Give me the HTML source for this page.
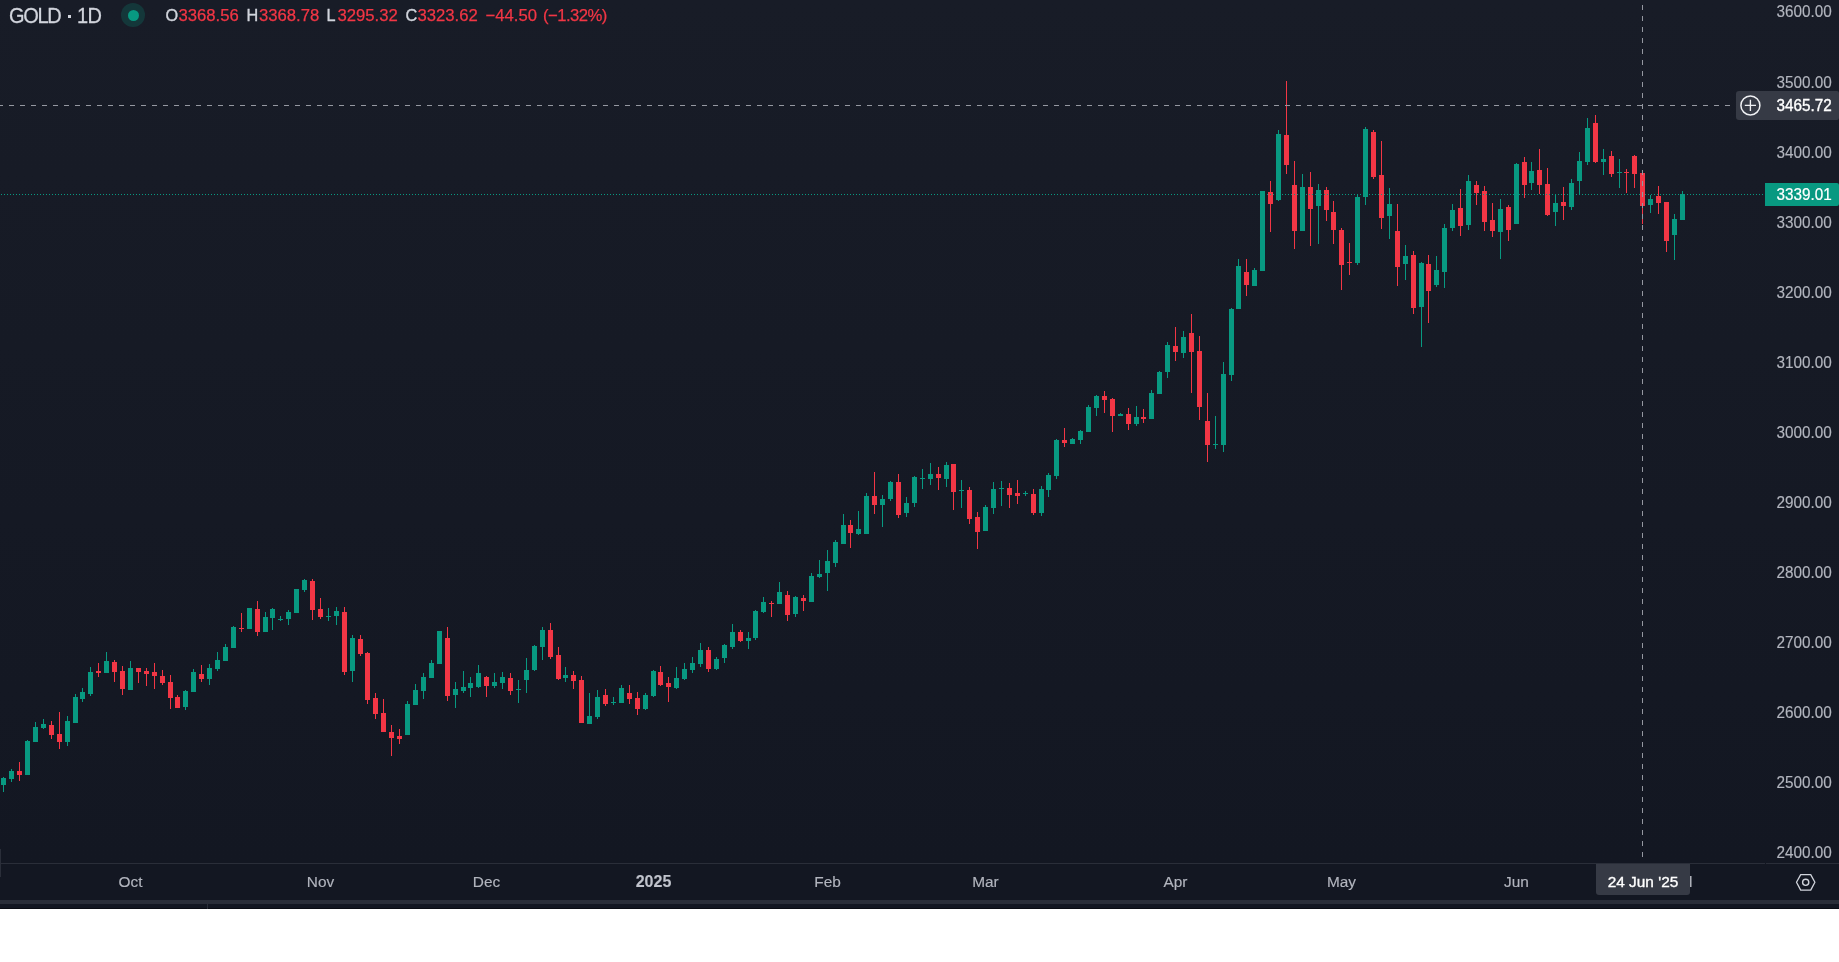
<!DOCTYPE html>
<html><head><meta charset="utf-8"><title>GOLD 1D</title>
<style>
html,body{margin:0;padding:0;background:#fff;}
body{width:1839px;height:962px;overflow:hidden;position:relative;font-family:"Liberation Sans",sans-serif;}
#chart{will-change:transform;position:absolute;left:0;top:0;width:1839px;height:909px;background:#131722;overflow:hidden;}
#pane{position:absolute;left:0;top:0;width:1839px;height:863px;background:linear-gradient(to bottom,#181c27 0%,#131722 100%);}
#tborder{position:absolute;left:0;top:863px;width:1765px;height:1px;background:#2a2e39;}
#tborder2{position:absolute;left:1766px;top:863px;width:73px;height:1px;background:#2a2e39;}
#strip{position:absolute;left:0;top:900px;width:1839px;height:4px;background:#2a2e39;}
#last{position:absolute;left:0;top:908px;width:1839px;height:1px;background:#0a0c13;}
#vtick{position:absolute;left:207px;top:904px;width:1px;height:5px;background:#2a2e39;z-index:2;}
#ledge{position:absolute;left:0;top:849px;width:1px;height:28px;background:#2a2e39;}
svg{position:absolute;left:0;top:0;}
.pl{position:absolute;right:7.2px;height:20px;line-height:20px;font-size:15.3px;color:#b2b5be;white-space:nowrap;transform:scaleY(1.07);-webkit-text-stroke:0.15px #b2b5be;}
.tl{position:absolute;top:871.6px;width:80px;text-align:center;height:20px;line-height:20px;font-size:15.4px;color:#b2b5be;white-space:nowrap;-webkit-text-stroke:0.15px #b2b5be;}
.tl.b{font-weight:bold;color:#c1c4cd;font-size:16px;}
#title{position:absolute;left:9px;top:3.5px;transform:scaleY(1.07);-webkit-text-stroke:0.25px #d1d4dc;height:24px;line-height:24px;font-size:20px;color:#d1d4dc;white-space:nowrap;letter-spacing:-1.3px;}
.lg{position:absolute;top:5.3px;height:20px;line-height:20px;font-size:16.25px;white-space:nowrap;}
.lk{color:#d1d4dc;-webkit-text-stroke:0.35px #d1d4dc;}
.lv{color:#f23645;font-size:16.7px;margin-top:1px;-webkit-text-stroke:0.25px #f23645;}
#title2{position:absolute;left:77px;top:3.5px;transform:scaleY(1.07);-webkit-text-stroke:0.25px #d1d4dc;height:24px;line-height:24px;font-size:20px;color:#d1d4dc;white-space:nowrap;letter-spacing:-0.6px;}
#bul{position:absolute;left:68px;top:15px;width:3px;height:3px;background:#d1d4dc;}
#dotO{position:absolute;left:121px;top:3px;width:24px;height:24px;border-radius:50%;background:rgba(8,153,129,0.22);}
#dotI{position:absolute;left:127.5px;top:9.5px;width:11px;height:11px;border-radius:50%;background:#089981;}
#chl{position:absolute;left:1736px;top:91px;width:103px;height:29px;background:#363a45;border-radius:3px 2px 2px 3px;}
#chlt{position:absolute;right:7.2px;top:96.2px;height:20px;line-height:20px;font-size:15.3px;color:#fff;-webkit-text-stroke:0.35px #fff;white-space:nowrap;transform:scaleY(1.03);}
#cpl{position:absolute;left:1765px;top:183px;width:74px;height:23px;background:#089981;border-radius:0 2px 2px 0;}
#cplt{position:absolute;right:7.2px;top:184.5px;height:20px;line-height:20px;font-size:15.3px;color:#fff;white-space:nowrap;transform:scaleY(1.07);-webkit-text-stroke:0.2px #fff;}
#dl{position:absolute;left:1596px;top:864px;width:94px;height:31px;background:#363a45;border-radius:0 0 3px 3px;}
#dlt{position:absolute;left:1596px;top:871.5px;width:94px;text-align:center;height:20px;line-height:20px;font-size:15.4px;color:#fff;-webkit-text-stroke:0.35px #fff;white-space:nowrap;}
</style></head><body>
<div id="chart">
<div id="pane"></div>
<div id="tborder"></div><div id="tborder2"></div>
<div id="strip"></div><div id="last"></div><div id="vtick"></div><div id="ledge"></div>
<svg width="1839" height="909" viewBox="0 0 1839 909" shape-rendering="crispEdges">
<path fill="#089981" d="M3 777h1v15h-1zM11 769h1v13h-1zM27 740h1v35h-1zM35 722h1v20h-1zM43 719h1v10h-1zM67 716h1v30h-1zM75 694h1v29h-1zM82 688h1v14h-1zM90 667h1v29h-1zM106 652h1v21h-1zM130 661h1v29h-1zM185 690h1v20h-1zM193 669h1v23h-1zM209 664h1v21h-1zM217 652h1v19h-1zM225 644h1v17h-1zM233 626h1v22h-1zM249 608h1v21h-1zM265 612h1v20h-1zM272 608h1v22h-1zM280 616h1v5h-1zM288 610h1v15h-1zM296 589h1v24h-1zM304 579h1v13h-1zM328 608h1v13h-1zM336 607h1v18h-1zM352 635h1v47h-1zM407 701h1v34h-1zM415 684h1v21h-1zM423 673h1v26h-1zM431 660h1v18h-1zM439 631h1v33h-1zM455 682h1v26h-1zM463 671h1v22h-1zM470 677h1v20h-1zM478 665h1v23h-1zM494 673h1v15h-1zM502 672h1v17h-1zM518 680h1v23h-1zM526 658h1v35h-1zM534 645h1v26h-1zM542 627h1v33h-1zM565 667h1v15h-1zM589 693h1v31h-1zM597 690h1v29h-1zM613 697h1v8h-1zM621 685h1v18h-1zM645 693h1v17h-1zM653 670h1v27h-1zM676 667h1v22h-1zM684 663h1v17h-1zM692 657h1v16h-1zM700 643h1v24h-1zM716 657h1v13h-1zM724 644h1v19h-1zM732 624h1v25h-1zM748 632h1v17h-1zM755 610h1v30h-1zM763 597h1v16h-1zM779 582h1v22h-1zM795 596h1v21h-1zM811 573h1v29h-1zM819 560h1v18h-1zM827 550h1v41h-1zM835 540h1v27h-1zM843 514h1v30h-1zM858 511h1v24h-1zM866 493h1v41h-1zM882 495h1v32h-1zM890 481h1v20h-1zM906 497h1v20h-1zM914 476h1v31h-1zM922 469h1v20h-1zM930 463h1v22h-1zM946 462h1v25h-1zM961 480h1v28h-1zM985 505h1v26h-1zM993 482h1v32h-1zM1001 481h1v25h-1zM1025 491h1v5h-1zM1041 486h1v30h-1zM1048 473h1v24h-1zM1056 439h1v40h-1zM1072 438h1v6h-1zM1080 430h1v14h-1zM1088 405h1v27h-1zM1096 395h1v21h-1zM1120 413h1v3h-1zM1136 406h1v20h-1zM1151 390h1v29h-1zM1159 371h1v23h-1zM1167 342h1v36h-1zM1183 331h1v27h-1zM1215 416h1v33h-1zM1223 362h1v90h-1zM1231 308h1v73h-1zM1238 259h1v50h-1zM1254 268h1v18h-1zM1262 191h1v80h-1zM1278 130h1v71h-1zM1302 174h1v57h-1zM1318 184h1v60h-1zM1357 194h1v71h-1zM1365 127h1v78h-1zM1389 188h1v51h-1zM1405 245h1v35h-1zM1421 262h1v85h-1zM1436 256h1v31h-1zM1444 224h1v64h-1zM1452 204h1v27h-1zM1468 175h1v55h-1zM1500 199h1v60h-1zM1516 163h1v61h-1zM1531 162h1v28h-1zM1555 194h1v32h-1zM1571 179h1v31h-1zM1579 152h1v43h-1zM1587 118h1v47h-1zM1603 149h1v26h-1zM1619 159h1v29h-1zM1650 195h1v18h-1zM1674 214h1v46h-1zM1682 191h1v29h-1zM1 778h5v7h-5zM9 771h5v8h-5zM25 741h5v34h-5zM33 727h5v15h-5zM41 724h5v4h-5zM65 721h5v21h-5zM73 697h5v26h-5zM80 692h5v7h-5zM88 672h5v22h-5zM104 661h5v12h-5zM128 668h5v22h-5zM183 691h5v16h-5zM191 672h5v20h-5zM207 668h5v11h-5zM215 660h5v9h-5zM223 647h5v14h-5zM231 627h5v21h-5zM247 608h5v21h-5zM263 617h5v15h-5zM270 609h5v9h-5zM278 619h5v1h-5zM286 612h5v7h-5zM294 589h5v24h-5zM302 580h5v10h-5zM326 616h5v1h-5zM334 611h5v5h-5zM350 638h5v33h-5zM405 704h5v31h-5zM413 690h5v15h-5zM421 677h5v14h-5zM429 663h5v15h-5zM437 631h5v33h-5zM453 689h5v6h-5zM461 687h5v4h-5zM468 683h5v5h-5zM476 673h5v14h-5zM492 682h5v4h-5zM500 677h5v6h-5zM516 689h5v1h-5zM524 670h5v10h-5zM532 646h5v24h-5zM540 630h5v17h-5zM563 675h5v3h-5zM587 716h5v8h-5zM595 697h5v20h-5zM611 702h5v1h-5zM619 688h5v15h-5zM643 695h5v14h-5zM651 671h5v25h-5zM674 678h5v10h-5zM682 669h5v10h-5zM690 663h5v7h-5zM698 650h5v14h-5zM714 659h5v10h-5zM722 645h5v13h-5zM730 632h5v15h-5zM746 638h5v3h-5zM753 611h5v27h-5zM761 602h5v10h-5zM777 592h5v12h-5zM793 597h5v17h-5zM809 576h5v26h-5zM817 574h5v3h-5zM825 561h5v12h-5zM833 542h5v21h-5zM841 525h5v19h-5zM856 529h5v5h-5zM864 496h5v38h-5zM880 499h5v6h-5zM888 482h5v17h-5zM904 503h5v10h-5zM912 477h5v26h-5zM920 478h5v1h-5zM928 474h5v5h-5zM944 465h5v14h-5zM959 490h5v1h-5zM983 507h5v24h-5zM991 489h5v19h-5zM999 488h5v1h-5zM1023 493h5v1h-5zM1039 489h5v24h-5zM1046 475h5v15h-5zM1054 440h5v36h-5zM1070 439h5v5h-5zM1078 431h5v9h-5zM1086 407h5v25h-5zM1094 396h5v12h-5zM1118 414h5v2h-5zM1134 417h5v7h-5zM1149 393h5v26h-5zM1157 372h5v22h-5zM1165 345h5v27h-5zM1181 337h5v16h-5zM1213 444h5v1h-5zM1221 374h5v71h-5zM1229 309h5v66h-5zM1236 266h5v43h-5zM1252 270h5v16h-5zM1260 191h5v80h-5zM1276 134h5v66h-5zM1300 187h5v44h-5zM1316 190h5v16h-5zM1355 197h5v66h-5zM1363 129h5v68h-5zM1387 204h5v12h-5zM1403 256h5v8h-5zM1419 263h5v44h-5zM1434 270h5v15h-5zM1442 228h5v44h-5zM1450 210h5v18h-5zM1466 181h5v44h-5zM1498 209h5v23h-5zM1514 164h5v60h-5zM1529 171h5v12h-5zM1553 203h5v9h-5zM1569 183h5v24h-5zM1577 161h5v20h-5zM1585 128h5v34h-5zM1601 159h5v3h-5zM1617 172h5v1h-5zM1648 199h5v6h-5zM1672 219h5v16h-5zM1680 194h5v26h-5z"/>
<path fill="#f23645" d="M19 762h1v19h-1zM51 721h1v18h-1zM59 712h1v37h-1zM98 663h1v14h-1zM114 660h1v22h-1zM122 666h1v29h-1zM138 668h1v15h-1zM146 668h1v18h-1zM154 663h1v26h-1zM162 670h1v15h-1zM170 675h1v34h-1zM177 695h1v13h-1zM201 665h1v17h-1zM241 613h1v19h-1zM257 601h1v35h-1zM312 579h1v41h-1zM320 598h1v21h-1zM344 607h1v68h-1zM360 635h1v21h-1zM367 652h1v52h-1zM375 693h1v26h-1zM383 699h1v33h-1zM391 725h1v31h-1zM399 729h1v15h-1zM447 627h1v74h-1zM486 676h1v21h-1zM510 673h1v22h-1zM550 623h1v36h-1zM558 647h1v33h-1zM573 671h1v18h-1zM581 676h1v47h-1zM605 689h1v17h-1zM629 685h1v19h-1zM637 692h1v23h-1zM660 666h1v20h-1zM668 677h1v25h-1zM708 647h1v25h-1zM740 630h1v12h-1zM771 601h1v16h-1zM787 591h1v30h-1zM803 595h1v16h-1zM850 520h1v28h-1zM874 472h1v42h-1zM898 474h1v44h-1zM938 467h1v23h-1zM953 464h1v46h-1zM969 487h1v37h-1zM977 512h1v37h-1zM1009 483h1v25h-1zM1017 480h1v24h-1zM1033 489h1v26h-1zM1064 428h1v19h-1zM1104 391h1v22h-1zM1112 398h1v34h-1zM1128 408h1v22h-1zM1143 409h1v14h-1zM1175 327h1v34h-1zM1191 314h1v79h-1zM1199 336h1v84h-1zM1207 393h1v69h-1zM1246 259h1v37h-1zM1270 181h1v51h-1zM1286 81h1v93h-1zM1294 161h1v88h-1zM1310 172h1v74h-1zM1326 187h1v34h-1zM1333 201h1v43h-1zM1341 228h1v62h-1zM1349 243h1v32h-1zM1373 130h1v49h-1zM1381 141h1v88h-1zM1397 204h1v82h-1zM1413 251h1v63h-1zM1428 255h1v68h-1zM1460 189h1v47h-1zM1476 181h1v24h-1zM1484 186h1v45h-1zM1492 203h1v34h-1zM1508 205h1v36h-1zM1524 157h1v41h-1zM1539 149h1v45h-1zM1547 168h1v48h-1zM1563 187h1v33h-1zM1595 115h1v48h-1zM1611 151h1v26h-1zM1626 169h1v24h-1zM1634 155h1v33h-1zM1642 171h1v53h-1zM1658 186h1v28h-1zM1666 202h1v50h-1zM17 771h5v4h-5zM49 725h5v10h-5zM57 734h5v8h-5zM96 671h5v2h-5zM112 662h5v10h-5zM120 671h5v18h-5zM136 668h5v4h-5zM144 671h5v3h-5zM152 672h5v4h-5zM160 676h5v7h-5zM168 682h5v16h-5zM175 697h5v11h-5zM199 674h5v5h-5zM239 628h5v1h-5zM255 609h5v23h-5zM310 581h5v29h-5zM318 609h5v8h-5zM342 612h5v60h-5zM358 639h5v15h-5zM365 653h5v47h-5zM373 698h5v16h-5zM381 713h5v19h-5zM389 732h5v6h-5zM397 736h5v3h-5zM445 638h5v58h-5zM484 677h5v9h-5zM508 678h5v13h-5zM548 630h5v27h-5zM556 655h5v24h-5zM571 675h5v6h-5zM579 680h5v43h-5zM603 695h5v9h-5zM627 693h5v6h-5zM635 698h5v11h-5zM658 672h5v13h-5zM666 683h5v4h-5zM706 650h5v19h-5zM738 632h5v9h-5zM769 603h5v1h-5zM785 595h5v20h-5zM801 598h5v3h-5zM848 525h5v8h-5zM872 496h5v9h-5zM896 482h5v33h-5zM936 474h5v4h-5zM951 464h5v28h-5zM967 490h5v29h-5zM975 517h5v15h-5zM1007 488h5v7h-5zM1015 493h5v3h-5zM1031 494h5v19h-5zM1062 440h5v3h-5zM1102 396h5v4h-5zM1110 399h5v17h-5zM1126 414h5v10h-5zM1141 417h5v2h-5zM1173 346h5v6h-5zM1189 333h5v19h-5zM1197 351h5v56h-5zM1205 421h5v24h-5zM1244 272h5v13h-5zM1268 192h5v12h-5zM1284 135h5v30h-5zM1292 185h5v46h-5zM1308 187h5v22h-5zM1324 190h5v20h-5zM1331 212h5v18h-5zM1339 230h5v35h-5zM1347 262h5v1h-5zM1371 132h5v45h-5zM1379 175h5v43h-5zM1395 231h5v36h-5zM1411 255h5v53h-5zM1426 264h5v27h-5zM1458 208h5v18h-5zM1474 185h5v8h-5zM1482 191h5v31h-5zM1490 220h5v11h-5zM1506 207h5v23h-5zM1522 162h5v23h-5zM1537 170h5v15h-5zM1545 184h5v31h-5zM1561 202h5v4h-5zM1593 123h5v39h-5zM1609 156h5v18h-5zM1624 172h5v1h-5zM1632 156h5v18h-5zM1640 173h5v33h-5zM1656 196h5v7h-5zM1664 202h5v39h-5z"/>
<line x1="1" y1="194.5" x2="1763" y2="194.5" stroke="#089981" stroke-width="1" stroke-dasharray="1 2"/>
<line x1="-2" y1="105.5" x2="1731" y2="105.5" stroke="#9598a1" stroke-width="1" stroke-dasharray="5 6"/>
<line x1="1642.5" y1="5" x2="1642.5" y2="863" stroke="#9598a1" stroke-width="1" stroke-dasharray="5 6"/>
</svg>
<div class="pl" style="top:2.4px">3600.00</div>
<div class="pl" style="top:72.5px">3500.00</div>
<div class="pl" style="top:142.5px">3400.00</div>
<div class="pl" style="top:212.6px">3300.00</div>
<div class="pl" style="top:282.6px">3200.00</div>
<div class="pl" style="top:352.7px">3100.00</div>
<div class="pl" style="top:422.8px">3000.00</div>
<div class="pl" style="top:492.8px">2900.00</div>
<div class="pl" style="top:562.9px">2800.00</div>
<div class="pl" style="top:632.9px">2700.00</div>
<div class="pl" style="top:703.0px">2600.00</div>
<div class="pl" style="top:773.1px">2500.00</div>
<div class="pl" style="top:843.1px">2400.00</div>
<div class="tl" style="left:90.5px">Oct</div>
<div class="tl" style="left:280.5px">Nov</div>
<div class="tl" style="left:446.5px">Dec</div>
<div class="tl b" style="left:613.5px">2025</div>
<div class="tl" style="left:787.5px">Feb</div>
<div class="tl" style="left:945.5px">Mar</div>
<div class="tl" style="left:1135.5px">Apr</div>
<div class="tl" style="left:1301.5px">May</div>
<div class="tl" style="left:1476.5px">Jun</div>
<div class="tl" style="left:1642.5px">Jul</div>
<div id="dl"></div><div id="dlt">24 Jun '25</div>
<div id="chl"></div><div id="chlt">3465.72</div>
<div id="cpl"></div><div id="cplt">3339.01</div>
<svg width="1839" height="909" viewBox="0 0 1839 909">
<circle cx="1750.4" cy="105.4" r="9.5" fill="none" stroke="#f0f1f4" stroke-width="1.5"/>
<path d="M1744.8 105.4h11.2M1750.4 99.8v11.2" stroke="#f0f1f4" stroke-width="1.35" fill="none"/>
<path d="M1796.5 882.3L1800.7 874.6H1810.7L1814.9 882.3L1810.7 890.1H1800.7Z" fill="none" stroke="#d1d4dc" stroke-width="1.3" stroke-linejoin="round"/>
<circle cx="1805.7" cy="882.3" r="3.1" fill="none" stroke="#d1d4dc" stroke-width="1.4"/>
</svg>
<div id="title">GOLD</div><div id="bul"></div><div id="title2">1D</div>
<div id="dotO"></div><div id="dotI"></div>
<div class="lg lk" id="kO" style="left:165.5px">O</div><div class="lg lv" id="vO" style="left:178.5px">3368.56</div>
<div class="lg lk" id="kH" style="left:246.5px">H</div><div class="lg lv" id="vH" style="left:259px">3368.78</div>
<div class="lg lk" id="kL" style="left:326.5px">L</div><div class="lg lv" id="vL" style="left:337.5px">3295.32</div>
<div class="lg lk" id="kC" style="left:405.5px">C</div><div class="lg lv" id="vC" style="left:417.5px">3323.62</div>
<div class="lg lv" id="vD" style="left:485.5px">−44.50</div>
<div class="lg lv" id="vP" style="left:543px;letter-spacing:-0.55px">(−1.32%)</div>
</div>
</body></html>
